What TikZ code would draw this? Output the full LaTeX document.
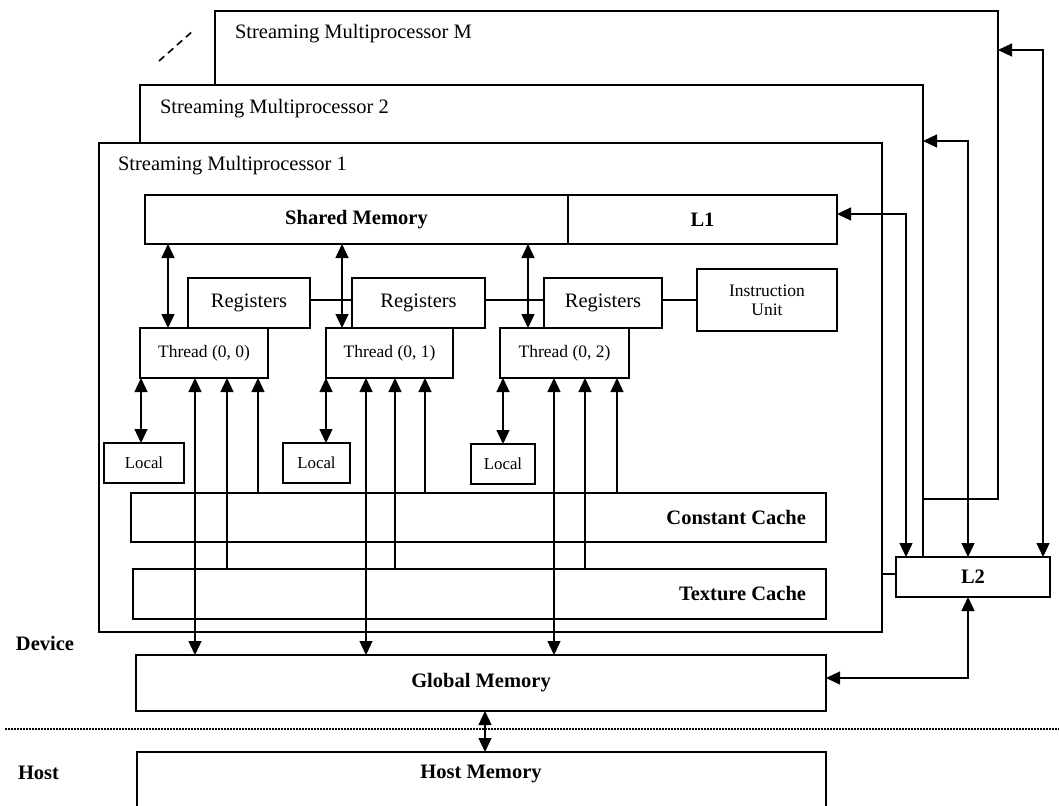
\documentclass[tikz,border=0pt]{standalone}
\usepackage{fontspec}
\setmainfont{Liberation Serif}
\usetikzlibrary{arrows.meta}
\newcommand\mainsz{\fontsize{20.5}{24}\selectfont}
\newcommand\thrsz{\fontsize{17.5}{20}\selectfont}
\newcommand\locsz{\fontsize{16.8}{19}\selectfont}
\begin{document}
\begin{tikzpicture}[x=1pt,y=-1pt,line width=1.3pt,
  box/.style={draw, fill=white, inner sep=0pt, outer sep=0pt, line width=1.3pt, font=\mainsz},
  lbl/.style={inner sep=0pt, outer sep=0pt, font=\mainsz},
  dbl/.style={{Triangle[width=13pt,length=14pt]}-{Triangle[width=13pt,length=14pt]}},
  sgl/.style={-{Triangle[width=13pt,length=14pt]}}]
\clip (0,0) rectangle (1059,805);
\fill[white] (0,0) rectangle (1059,805);
% streaming multiprocessors
\node[box, minimum width=783pt, minimum height=488pt] (smm) at (606.5,255) {};
\node[lbl, anchor=west] (smmlbl) at (235,34) {Streaming Multiprocessor M};
\node[box, minimum width=783pt, minimum height=489pt] (sm2) at (531.5,329.5) {};
\node[lbl, anchor=west] (sm2lbl) at (160,109) {Streaming Multiprocessor 2};
\node[box, minimum width=783pt, minimum height=489pt] (sm1) at (490.5,387.5) {};
\node[lbl, anchor=west] (sm1lbl) at (118,166) {Streaming Multiprocessor 1};
\coordinate (d1) at (159,61);
\coordinate (d2) at (194,30);
\draw[line width=1.6pt, dash pattern=on 7pt off 5pt] (d1) -- (d2);
% memories inside SM1
\node[box, minimum width=423pt, minimum height=49pt, font=\mainsz\bfseries] (shm) at (356.5,219.5) {Shared Memory};
\node[box, minimum width=269pt, minimum height=49pt, font=\mainsz\bfseries] (l1) at (702.5,219.5) {L1};
\node[box, minimum width=122pt, minimum height=50pt] (reg1) at (249,303) {Registers};
\node[box, minimum width=133pt, minimum height=50pt] (reg2) at (418.5,303) {Registers};
\node[box, minimum width=118pt, minimum height=50pt] (reg3) at (603,303) {Registers};
\node[box, minimum width=140pt, minimum height=62pt, font=\thrsz, align=center] (iu) at (767,300) {Instruction\\[-1pt]Unit};
\node[box, minimum width=128pt, minimum height=50pt, font=\thrsz] (thr0) at (204,353) {Thread (0, 0)};
\node[box, minimum width=127pt, minimum height=50pt, font=\thrsz] (thr1) at (389.5,353) {Thread (0, 1)};
\node[box, minimum width=129pt, minimum height=50pt, font=\thrsz] (thr2) at (564.5,353) {Thread (0, 2)};
\node[box, minimum width=80pt, minimum height=40pt, font=\locsz] (loc1) at (144,463) {Local};
\node[box, minimum width=67pt, minimum height=40pt, font=\locsz] (loc2) at (316.5,463) {Local};
\node[box, minimum width=64pt, minimum height=40pt, font=\locsz] (loc3) at (503,464) {Local};
\node[box, minimum width=695pt, minimum height=49pt] (cc) at (478.5,517.5) {};
\node[lbl, anchor=east, font=\mainsz\bfseries] (cclbl) at ([xshift=-20pt]cc.east) {Constant Cache};
\node[box, minimum width=693pt, minimum height=50pt] (tc) at (479.5,594) {};
\node[lbl, anchor=east, font=\mainsz\bfseries] (tclbl) at ([xshift=-20pt]tc.east) {Texture Cache};
\node[box, minimum width=154pt, minimum height=40pt, font=\mainsz\bfseries] (l2) at (973,577) {L2};
\node[box, minimum width=690pt, minimum height=56pt, font=\mainsz\bfseries] (glob) at (481,683) {Global Memory};
\node[box, minimum width=689pt, minimum height=88pt] (host) at (481.5,796) {};
\node[lbl, font=\mainsz\bfseries] (hostlbl) at (481,774) {Host Memory};
\node[lbl, font=\mainsz\bfseries, anchor=west] (dev) at (16,643) {Device};
\node[lbl, font=\mainsz\bfseries, anchor=west] (hst) at (18,773) {Host};
% separator
\coordinate (s1) at (5,729);
\coordinate (s2) at (1059,729);
\draw[line width=1.7pt, dash pattern=on 1.5pt off 1.5pt] (s1) -- (s2);
% register links
\draw (reg1.east |- iu.west) -- (reg2.west |- iu.west);
\draw (reg2.east |- iu.west) -- (reg3.west |- iu.west);
\draw (reg3.east |- iu.west) -- (iu.west);
% x positions
\coordinate (a1) at (168,0); \coordinate (a2) at (342,0); \coordinate (a3) at (528,0);
\coordinate (b1) at (141,0); \coordinate (b2) at (326,0); \coordinate (b3) at (503,0);
\coordinate (g1) at (195,0); \coordinate (t1) at (227,0); \coordinate (c1) at (258,0);
\coordinate (g2) at (366,0); \coordinate (t2) at (395,0); \coordinate (c2) at (425,0);
\coordinate (g3) at (554,0); \coordinate (t3) at (585,0); \coordinate (c3) at (617,0);
\coordinate (r1) at (906,214); \coordinate (r2) at (968,141); \coordinate (r3) at (1043,50);
\coordinate (r4) at (968,678); \coordinate (hx) at (485,0);
% shared memory <-> threads
\draw[dbl] (shm.south -| a1) -- (thr0.north -| a1);
\draw[dbl] (shm.south -| a2) -- (thr1.north -| a2);
\draw[dbl] (shm.south -| a3) -- (thr2.north -| a3);
% threads <-> local
\draw[dbl] (thr0.south -| b1) -- (loc1.north -| b1);
\draw[dbl] (thr1.south -| b2) -- (loc2.north -| b2);
\draw[dbl] (thr2.south -| b3) -- (loc3.north -| b3);
% threads <-> global, texture, constant
\draw[dbl] (thr0.south -| g1) -- (glob.north -| g1);
\draw[sgl] (tc.north -| t1) -- (thr0.south -| t1);
\draw[sgl] (cc.north -| c1) -- (thr0.south -| c1);
\draw[dbl] (thr1.south -| g2) -- (glob.north -| g2);
\draw[sgl] (tc.north -| t2) -- (thr1.south -| t2);
\draw[sgl] (cc.north -| c2) -- (thr1.south -| c2);
\draw[dbl] (thr2.south -| g3) -- (glob.north -| g3);
\draw[sgl] (tc.north -| t3) -- (thr2.south -| t3);
\draw[sgl] (cc.north -| c3) -- (thr2.south -| c3);
% L2 links
\draw[dbl] (l2.north -| r1) |- (l1.east |- r1);
\draw[dbl] (l2.north -| r2) |- (sm2.east |- r2);
\draw[dbl] (l2.north -| r3) |- (smm.east |- r3);
\draw[dbl] (l2.south -| r4) |- (glob.east |- r4);
% global <-> host
\draw[dbl] (glob.south -| hx) -- (host.north -| hx);
\end{tikzpicture}
\end{document}
